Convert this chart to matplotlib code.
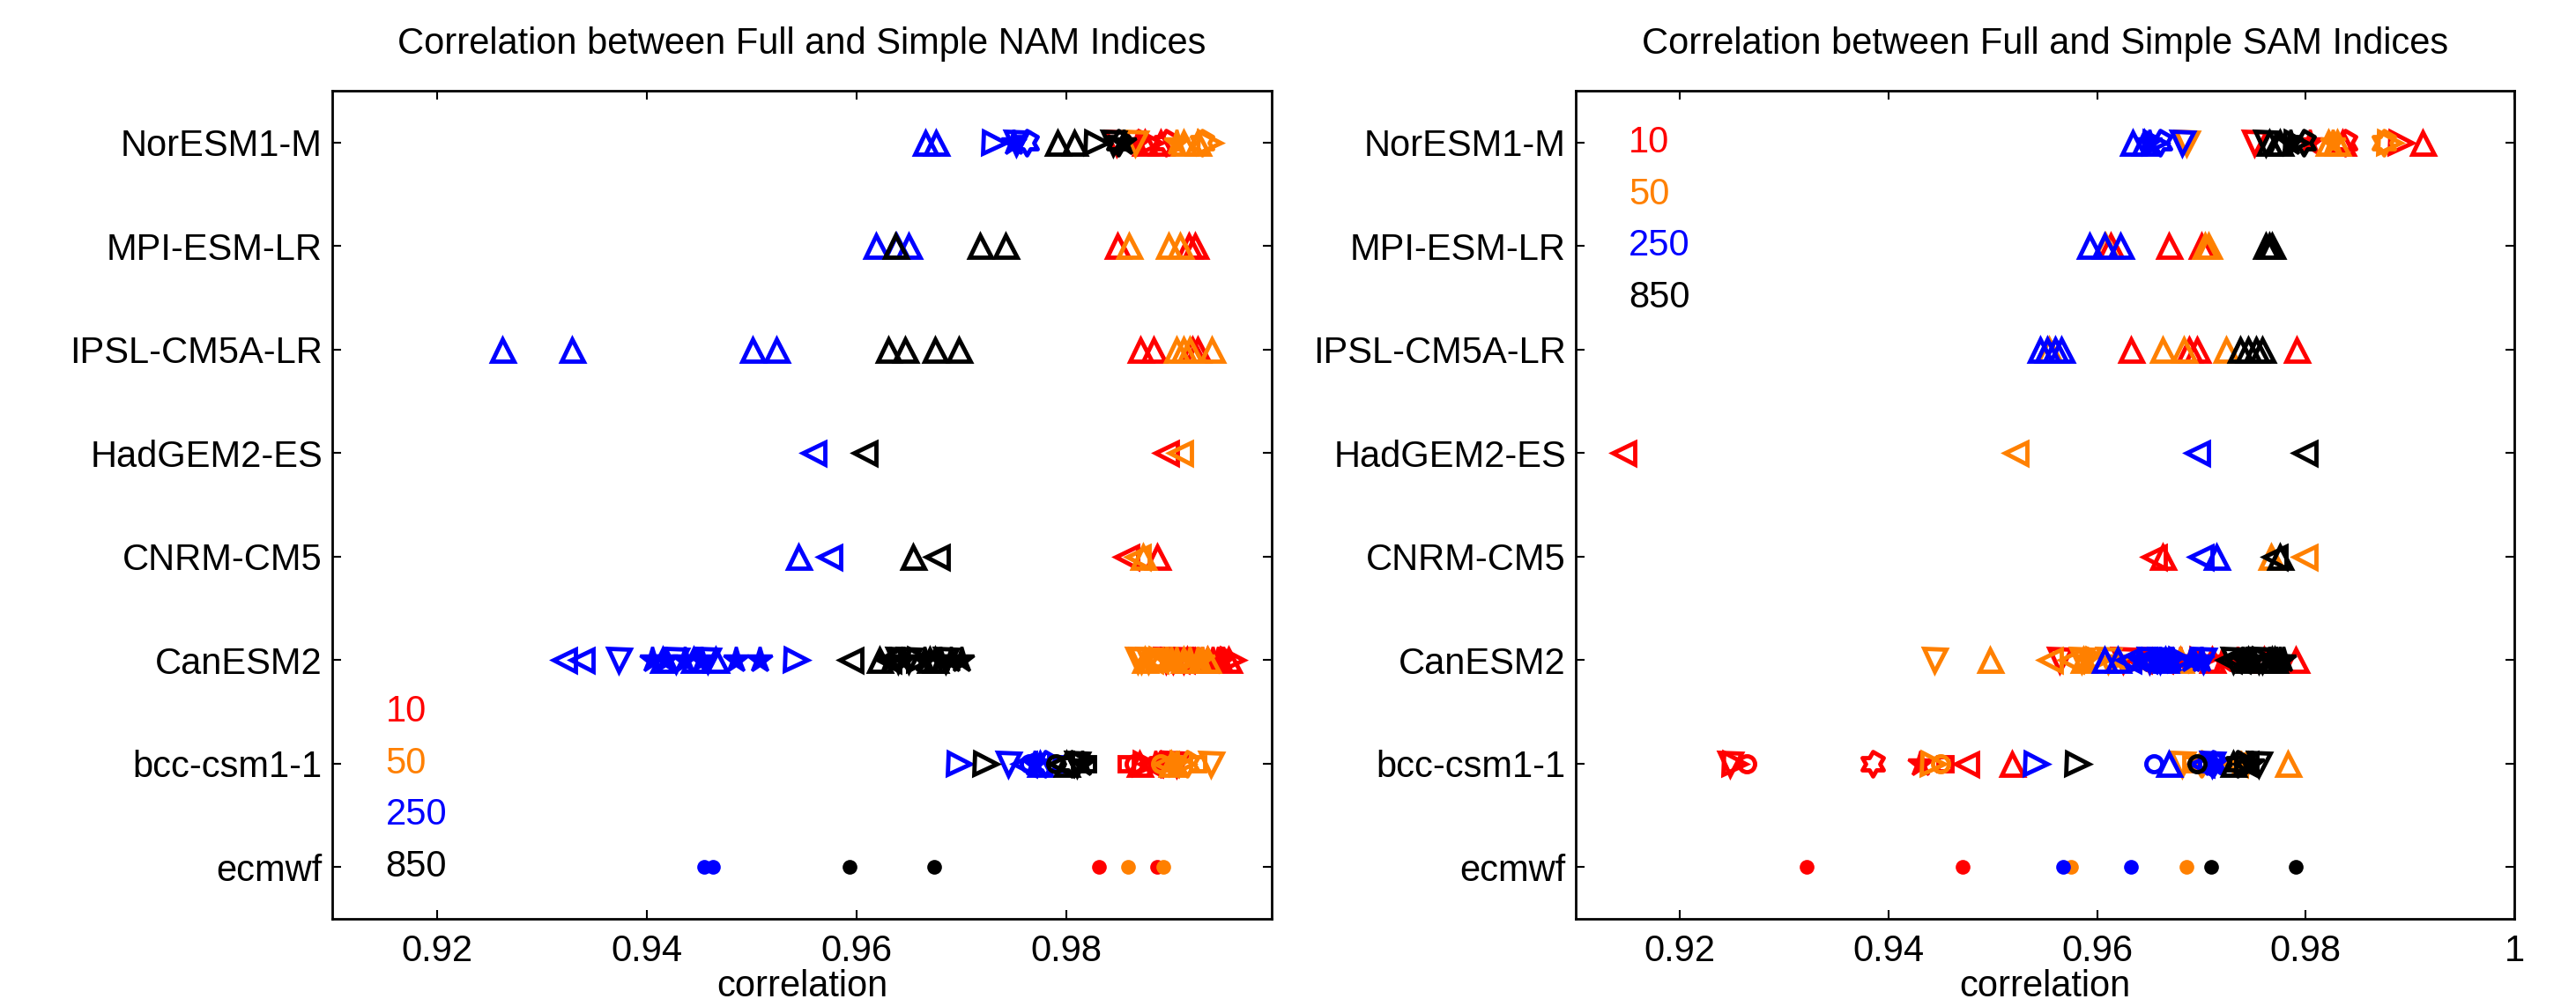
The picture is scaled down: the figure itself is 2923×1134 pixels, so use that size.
import numpy as np
import matplotlib
matplotlib.use('Agg')
import matplotlib.pyplot as plt
from matplotlib.path import Path

plt.rcParams['font.family'] = ['Liberation Sans', 'DejaVu Sans']

# models from bottom (y=1) to top (y=8)
models = ['ecmwf', 'bcc-csm1-1', 'CanESM2', 'CNRM-CM5', 'HadGEM2-ES',
          'IPSL-CM5A-LR', 'MPI-ESM-LR', 'NorESM1-M']
levels = ['10', '50', '250', '850']

# NAM correlations, one list per model (ensemble members in order)
nam_10 = {
    'ecmwf': [0.9831, 0.9887],
    'bcc-csm1-1': [0.9870, 0.9905, 0.9880, 0.9875, 0.9885, 0.9890, 0.9865, 0.9857],
    'CanESM2': [0.9905, 0.9910, 0.9895, 0.9915, 0.9958, 0.9920, 0.9925, 0.9902,
                0.9930, 0.9935, 0.9940, 0.9912, 0.9945, 0.9950, 0.9955],
    'CNRM-CM5': [0.9887, 0.9857],
    'HadGEM2-ES': [0.9895],
    'IPSL-CM5A-LR': [0.9871, 0.9883, 0.9920, 0.9925],
    'MPI-ESM-LR': [0.9849, 0.9917, 0.9923],
    'NorESM1-M': [0.9875, 0.9890, 0.9848, 0.9880, 0.9868, 0.9895],
}
nam_50 = {
    'ecmwf': [0.9859, 0.9893],
    'bcc-csm1-1': [0.9900, 0.9938, 0.9895, 0.9910, 0.9905, 0.9915, 0.9890, 0.9925],
    'CanESM2': [0.9880, 0.9885, 0.9868, 0.9875, 0.9890, 0.9895, 0.9900, 0.9872,
                0.9905, 0.9912, 0.9918, 0.9878, 0.9925, 0.9930, 0.9935],
    'CNRM-CM5': [0.9873, 0.9868],
    'HadGEM2-ES': [0.9909],
    'IPSL-CM5A-LR': [0.9905, 0.9912, 0.9918, 0.9939],
    'MPI-ESM-LR': [0.9860, 0.9898, 0.9909],
    'NorESM1-M': [0.9912, 0.9925, 0.9866, 0.9936, 0.9905, 0.9930],
}
nam_250 = {
    'ecmwf': [0.9455, 0.9463],
    'bcc-csm1-1': [0.9775, 0.9745, 0.9760, 0.9698, 0.9770, 0.9780, 0.9765, 0.9790],
    'CanESM2': [0.9321, 0.9338, 0.9373, 0.9415, 0.9542, 0.9405, 0.9418, 0.9428,
                0.9436, 0.9445, 0.9452, 0.9458, 0.9485, 0.9508, 0.9466],
    'CNRM-CM5': [0.9545, 0.9574],
    'HadGEM2-ES': [0.9559],
    'IPSL-CM5A-LR': [0.9262, 0.9329, 0.9501, 0.9524],
    'MPI-ESM-LR': [0.9619, 0.9638, 0.9650],
    'NorESM1-M': [0.9666, 0.9676, 0.9752, 0.9731, 0.9750, 0.9762],
}
nam_850 = {
    'ecmwf': [0.9593, 0.9674],
    'bcc-csm1-1': [0.9800, 0.9810, 0.9795, 0.9723, 0.9815, 0.9805, 0.9790, 0.9820],
    'CanESM2': [0.9594, 0.9630, 0.9640, 0.9622, 0.9660, 0.9632, 0.9645, 0.9650,
                0.9665, 0.9670, 0.9680, 0.9685, 0.9690, 0.9700, 0.9675],
    'CNRM-CM5': [0.9654, 0.9677],
    'HadGEM2-ES': [0.9608],
    'IPSL-CM5A-LR': [0.9630, 0.9646, 0.9675, 0.9698],
    'MPI-ESM-LR': [0.9637, 0.9718, 0.9742],
    'NorESM1-M': [0.9792, 0.9808, 0.9845, 0.9829, 0.9855, 0.9850],
}

# SAM correlations
sam_10 = {
    'ecmwf': [0.9321, 0.9471],
    'bcc-csm1-1': [0.9518, 0.9248, 0.9474, 0.9252, 0.9430, 0.9385, 0.9264, 0.9454],
    'CanESM2': [0.9640, 0.9660, 0.9564, 0.9790, 0.9700, 0.9670, 0.9680, 0.9625,
                0.9690, 0.9710, 0.9720, 0.9650, 0.9735, 0.9700, 0.9760],
    'CNRM-CM5': [0.9663, 0.9654],
    'HadGEM2-ES': [0.9146],
    'IPSL-CM5A-LR': [0.9632, 0.9688, 0.9696, 0.9791],
    'MPI-ESM-LR': [0.9613, 0.9669, 0.9700],
    'NorESM1-M': [0.9912, 0.9835, 0.9751, 0.9891, 0.9804, 0.9838],
}
sam_50 = {
    'ecmwf': [0.9575, 0.9686],
    'bcc-csm1-1': [0.9783, 0.9681, 0.9732, 0.9442, 0.9737, 0.9700, 0.9450, 0.9690],
    'CanESM2': [0.9555, 0.9575, 0.9444, 0.9497, 0.9600, 0.9590, 0.9620, 0.9585,
                0.9640, 0.9587, 0.9655, 0.9610, 0.9670, 0.9690, 0.9680],
    'CNRM-CM5': [0.9767, 0.9799],
    'HadGEM2-ES': [0.9522],
    'IPSL-CM5A-LR': [0.9554, 0.9663, 0.9683, 0.9724],
    'MPI-ESM-LR': [0.9608, 0.9703, 0.9707],
    'NorESM1-M': [0.9822, 0.9830, 0.9686, 0.9880, 0.9826, 0.9875],
}
sam_250 = {
    'ecmwf': [0.9567, 0.9632],
    'bcc-csm1-1': [0.9669, 0.9710, 0.9700, 0.9541, 0.9712, 0.9711, 0.9654, 0.9705],
    'CanESM2': [0.9630, 0.9645, 0.9650, 0.9607, 0.9680, 0.9640, 0.9655, 0.9702,
                0.9660, 0.9665, 0.9672, 0.9660, 0.9690, 0.9700, 0.9620],
    'CNRM-CM5': [0.9714, 0.9699],
    'HadGEM2-ES': [0.9696],
    'IPSL-CM5A-LR': [0.9545, 0.9552, 0.9560, 0.9566],
    'MPI-ESM-LR': [0.9593, 0.9607, 0.9622],
    'NorESM1-M': [0.9634, 0.9645, 0.9681, 0.9655, 0.9650, 0.9660],
}
sam_850 = {
    'ecmwf': [0.9709, 0.9790],
    'bcc-csm1-1': [0.9730, 0.9755, 0.9742, 0.9581, 0.9748, 0.9735, 0.9696, 0.9740],
    'CanESM2': [0.9726, 0.9735, 0.9730, 0.9745, 0.9760, 0.9740, 0.9750, 0.9755,
                0.9765, 0.9770, 0.9772, 0.9758, 0.9775, 0.9779, 0.9768],
    'CNRM-CM5': [0.9775, 0.9770],
    'HadGEM2-ES': [0.9799],
    'IPSL-CM5A-LR': [0.9737, 0.9745, 0.9752, 0.9758],
    'MPI-ESM-LR': [0.9762, 0.9765, 0.9768],
    'NorESM1-M': [0.9765, 0.9775, 0.9762, 0.9790, 0.9785, 0.9798],
}

# marker for each ensemble member
member_markers = {
    'ecmwf': ['.', '.'],
    'bcc-csm1-1': ['^', 'v', '<', '>', '*', 'h', 'o', 's'],
    'CanESM2': ['<', '<', 'v', '^', '>', '*', '*', 'v', '*', '^', '*', 'v', '*', '*', '^'],
    'CNRM-CM5': ['^', '<'],
    'HadGEM2-ES': ['<'],
    'IPSL-CM5A-LR': ['^', '^', '^', '^'],
    'MPI-ESM-LR': ['^', '^', '^'],
    'NorESM1-M': ['^', '^', 'v', '>', '*', 'h'],
}

colors = ['#ff0000', '#ff8000', '#0000ff', '#000000']

# six-pointed star
ang = np.deg2rad(90 + 30 * np.arange(12))
rad = np.where(np.arange(12) % 2 == 0, 1.0, 1 / np.sqrt(3))
hexagram = Path(np.column_stack([rad * np.cos(ang), rad * np.sin(ang)]), closed=True)

mk_style = {
    '^': dict(marker='^', ms=18, mew=3.5), 'v': dict(marker='v', ms=18, mew=3.5),
    '<': dict(marker='<', ms=18, mew=3.5), '>': dict(marker='>', ms=18, mew=3.5),
    '*': dict(marker='*', ms=21, mew=2.5), 'h': dict(marker=hexagram, ms=20, mew=3.5),
    'o': dict(marker='o', ms=13, mew=3.5), 's': dict(marker='s', ms=12, mew=3.5),
}


def draw_panel(ax, data, title, xmax):
    for lev, col in zip(data, colors):
        for iy, m in enumerate(models):
            for val, mk in zip(lev[m], member_markers[m]):
                if mk == '.':
                    ax.plot(val, iy + 1, 'o', ms=12, mew=0, color=col)
                else:
                    face = col if mk == '*' else 'none'
                    ax.plot(val, iy + 1, ls='none', mfc=face, mec=col,
                            **mk_style[mk])

    ax.set_xlim(0.91, xmax)
    ax.set_ylim(0.5, 8.5)
    ticks = [t for t in [0.92, 0.94, 0.96, 0.98, 1.0] if t <= xmax]
    ax.set_xticks(ticks)
    ax.set_xticklabels(['%g' % t for t in ticks])
    ax.set_yticks(np.arange(1, 9))
    ax.set_yticklabels(models)
    ax.tick_params(direction='in', length=7, width=1.5, top=True, right=True,
                   labelsize=30)
    ax.tick_params(axis='x', pad=12)
    ax.tick_params(axis='y', pad=8)
    for s in ax.spines.values():
        s.set_linewidth(2)
    ax.set_xlabel('correlation', fontsize=30, labelpad=0)
    ax.set_title(title, fontsize=30, pad=30)


fig = plt.figure(figsize=(29.23, 11.34), dpi=100)
ax1 = fig.add_axes([377 / 2923, 1 - 1043 / 1134, 1066 / 2923, 940 / 1134])
ax2 = fig.add_axes([1788 / 2923, 1 - 1043 / 1134, 1065 / 2923, 940 / 1134])

draw_panel(ax1, [nam_10, nam_50, nam_250, nam_850],
           'Correlation between Full and Simple NAM Indices', 0.9996)
draw_panel(ax2, [sam_10, sam_50, sam_250, sam_850],
           'Correlation between Full and Simple SAM Indices', 1.0)

# level labels
for i, (lev, col) in enumerate(zip(levels, colors)):
    ax1.text(0.9151, 2.5 - 0.5 * i, lev, color=col, fontsize=30, va='center')
    ax2.text(0.9151, 8.0 - 0.5 * i, lev, color=col, fontsize=30, va='center')

fig.savefig('out.png', dpi=100)
